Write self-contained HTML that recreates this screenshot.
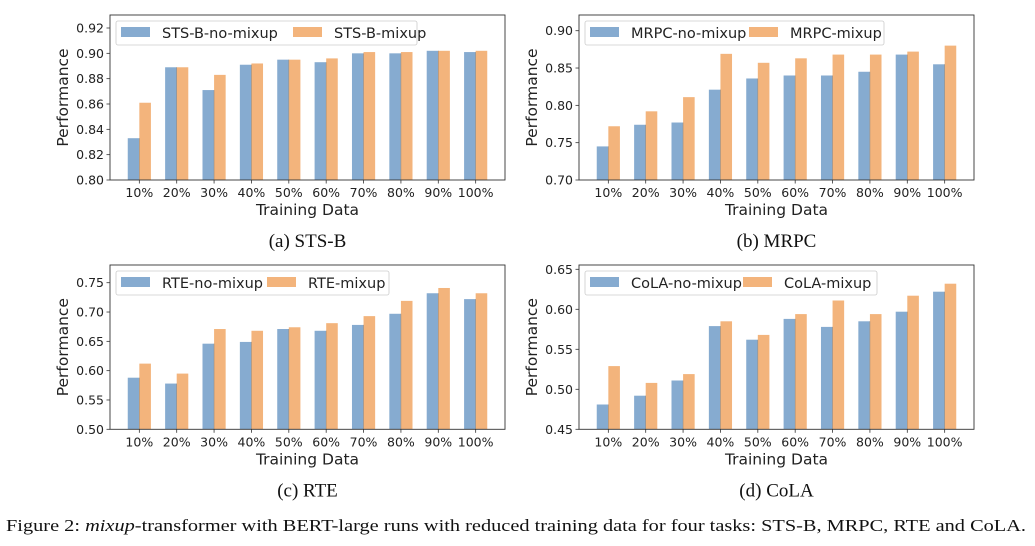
<!DOCTYPE html>
<html><head><meta charset="utf-8"><style>
body{margin:0;background:#fff;}
svg{display:block;font-family:"DejaVu Sans","Liberation Sans",sans-serif;}
</style></head><body>
<svg id="fig" width="1035" height="546" viewBox="0 0 1035 546"></svg>
<script>
const categories = ["10%","20%","30%","40%","50%","60%","70%","80%","90%","100%"];
const stsbNoMix = [0.833,0.889,0.871,0.891,0.895,0.893,0.900,0.900,0.902,0.901];
const stsbMix   = [0.861,0.889,0.883,0.892,0.895,0.896,0.901,0.901,0.902,0.902];
const mrpcNoMix = [0.745,0.774,0.777,0.821,0.836,0.840,0.840,0.845,0.868,0.855];
const mrpcMix   = [0.772,0.792,0.811,0.869,0.857,0.863,0.868,0.868,0.872,0.880];
const rteNoMix  = [0.588,0.578,0.646,0.649,0.671,0.668,0.678,0.697,0.732,0.722];
const rteMix    = [0.612,0.595,0.671,0.668,0.674,0.681,0.693,0.719,0.741,0.732];
const colaNoMix = [0.481,0.492,0.511,0.579,0.562,0.588,0.578,0.585,0.597,0.622];
const colaMix   = [0.529,0.508,0.519,0.585,0.568,0.594,0.611,0.594,0.617,0.632];
const stsbTicks = [0.80,0.82,0.84,0.86,0.88,0.90,0.92];
const mrpcTicks = [0.70,0.75,0.80,0.85,0.90];
const rteTicks  = [0.50,0.55,0.60,0.65,0.70,0.75];
const colaTicks = [0.45,0.50,0.55,0.60,0.65];

const NS="http://www.w3.org/2000/svg";
const svg=document.getElementById('fig');
function mk(tag,attrs,parent,text){const e=document.createElementNS(NS,tag);for(const k in attrs)e.setAttribute(k,attrs[k]);if(text!==undefined)e.textContent=text;(parent||svg).appendChild(e);return e;}

function panel(cfg){
  const g=mk('g',{});
  
  
  const {L,R,T,B,y0,y1,v0,v1}=cfg;
  const yScale=v=>y0+(v-v0)*(y1-y0)/(v1-v0);
  const step=(R-L)/(categories.length-1+2*0.785);
  const xScale=i=>L+step*(0.785+i);
  const bw=step*0.31;
  categories.forEach((c,i)=>{
    const cx=xScale(i);
    const yb=yScale(cfg.a[i]);
    const r1=mk('rect',{x:cx-bw,y:yb,width:bw,height:B-yb,fill:'#86abd0'},g);
    
    
    const yo=yScale(cfg.b[i]);
    const r2=mk('rect',{x:cx,y:yo,width:bw,height:B-yo,fill:'#f3b47c'},g);
    
    
    mk('line',{x1:cx,x2:cx,y1:Math.max(yb,yo),y2:B,stroke:'#a08d7a','stroke-width':0.6},g);
    mk('line',{x1:cx,x2:cx,y1:B,y2:B+3.5,stroke:'#333','stroke-width':0.8},g);
    const t=mk('text',{x:cx,y:B+17,'text-anchor':'middle','font-size':12.5,fill:'#222'},g,c);
    
    
  });
  cfg.ticks.forEach(v=>{
    const y=yScale(v);
    mk('line',{x1:L-3.5,x2:L,y1:y,y2:y,stroke:'#333','stroke-width':0.8},g);
    const t=mk('text',{x:L-6,y:y+4.5,'text-anchor':'end','font-size':12.5,fill:'#222'},g,v.toFixed(2));
    
    
  });
  mk('rect',{x:L,y:T,width:R-L,height:B-T,fill:'none',stroke:'#333','stroke-width':0.9},g);
  const xl=mk('text',{x:(L+R)/2,y:B+35,'text-anchor':'middle','font-size':15.5,fill:'#222'},g,'Training Data');
  
  
  const yc=(T+B)/2;
  const yl=mk('text',{x:L-42,y:yc,'text-anchor':'middle','font-size':15.5,fill:'#222',transform:`rotate(-90 ${L-42} ${yc})`},g,'Performance');
  
  
  const lg=mk('g',{},g);
  
  
  const lx=L+6, ly=T+6;
  mk('rect',{x:lx,y:ly,width:cfg.lw,height:24,rx:2,fill:'#fff','fill-opacity':0.85,stroke:'#ccc','stroke-width':0.8},lg);
  mk('rect',{x:lx+5,y:ly+6,width:29,height:10,fill:'#86abd0'},lg);
  const t1=mk('text',{x:lx+46,y:ly+17,'font-size':14.5,fill:'#222'},lg,cfg.name+'-no-mixup');
  
  
  mk('rect',{x:lx+cfg.l2,y:ly+6,width:29,height:10,fill:'#f3b47c'},lg);
  const t2=mk('text',{x:lx+cfg.l2+41,y:ly+17,'font-size':14.5,fill:'#222'},lg,cfg.name+'-mixup');
  
  
  const cap=mk('text',{x:(L+R)/2,y:B+67,'text-anchor':'middle','font-size':19,fill:'#111','font-family':'"Liberation Serif",serif'},g,cfg.caption);
  
  
}
panel({name:'STS-B',a:stsbNoMix,b:stsbMix,ticks:stsbTicks,L:110,R:505,T:15,B:180,y0:180,y1:28,v0:0.80,v1:0.92,lw:301,l2:177,caption:'(a)  STS-B'});
panel({name:'MRPC',a:mrpcNoMix,b:mrpcMix,ticks:mrpcTicks,L:579,R:974,T:15,B:180,y0:180,y1:30.7,v0:0.70,v1:0.90,lw:299,l2:164,caption:'(b)  MRPC'});
panel({name:'RTE',a:rteNoMix,b:rteMix,ticks:rteTicks,L:110,R:505,T:265,B:429.3,y0:429.3,y1:282.7,v0:0.50,v1:0.75,lw:273,l2:151,caption:'(c)  RTE'});
panel({name:'CoLA',a:colaNoMix,b:colaMix,ticks:colaTicks,L:579,R:974,T:265,B:429.3,y0:429.3,y1:269.3,v0:0.45,v1:0.65,lw:292,l2:158,caption:'(d)  CoLA'});
const fc=mk('text',{x:6,y:531,'font-size':17,fill:'#111','font-family':'"Liberation Serif",serif',textLength:1020,lengthAdjust:'spacingAndGlyphs'});


fc.appendChild(document.createTextNode('Figure 2: '));
mk('tspan',{'font-style':'italic'},fc,'mixup');
fc.appendChild(document.createTextNode('-transformer with BERT-large runs with reduced training data for four tasks: STS-B, MRPC, RTE and CoLA.'));
</script>
</body></html>
